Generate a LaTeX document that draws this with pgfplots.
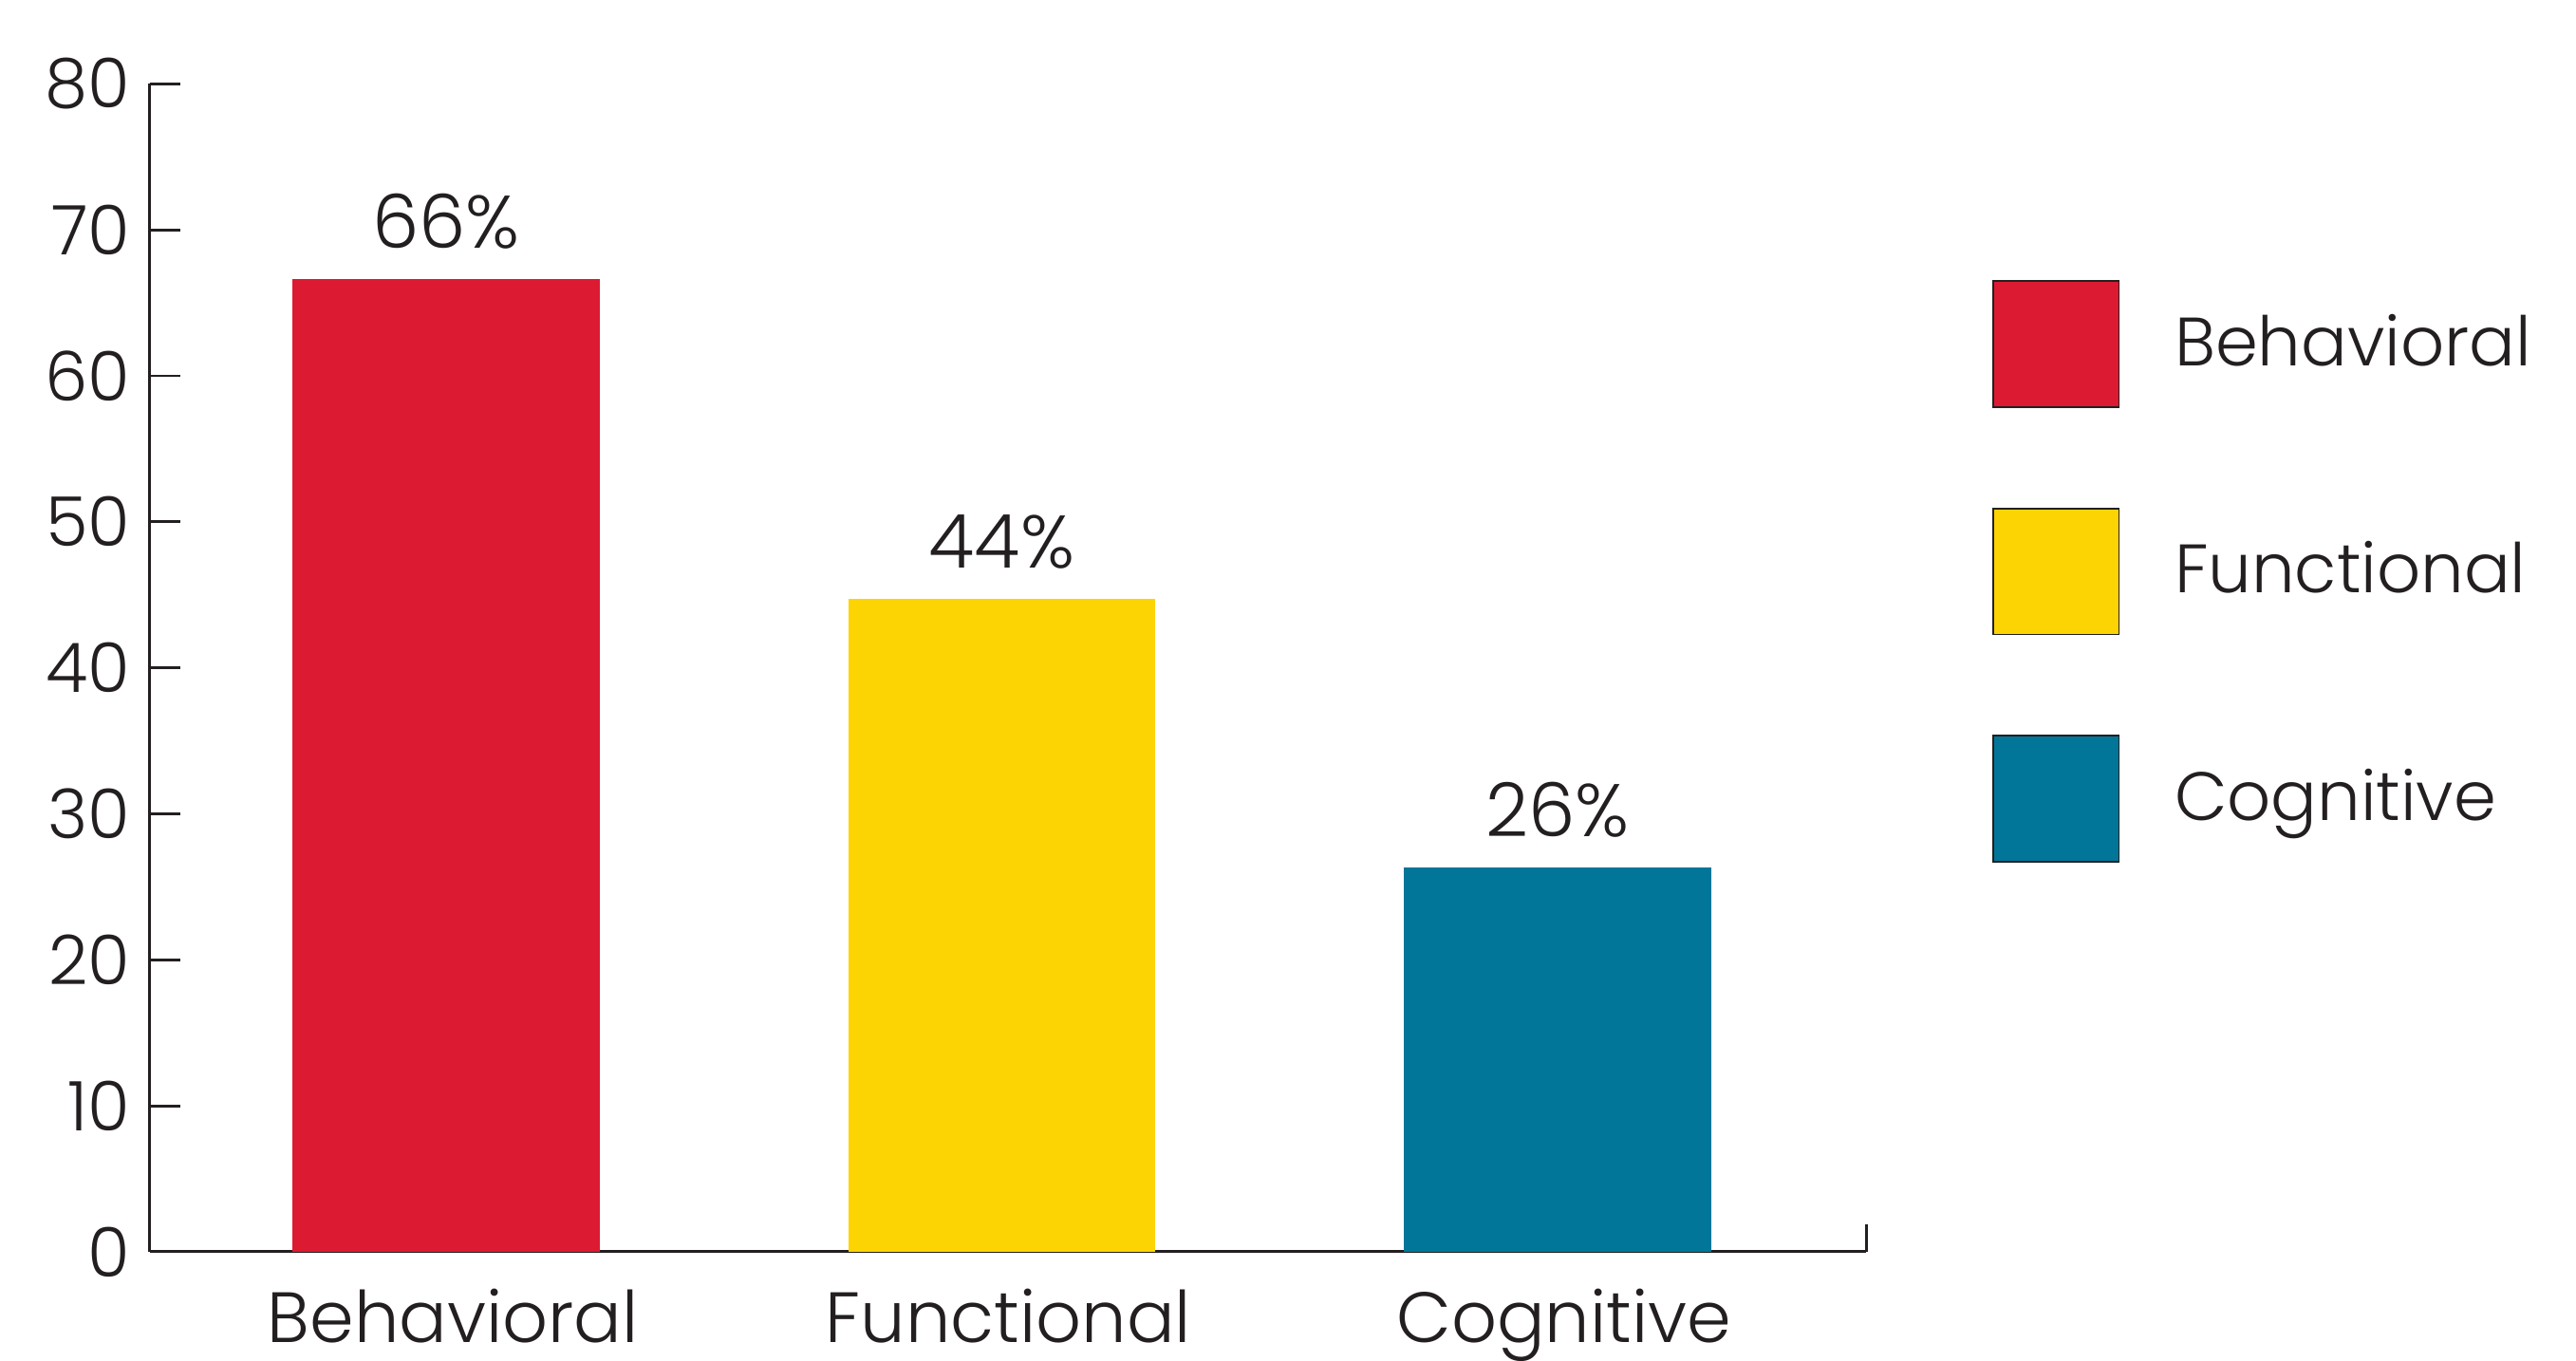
\documentclass[border=0pt]{standalone}
\usepackage{pgfplots}
\pgfplotsset{compat=1.18}
\usepackage{fontspec}
\setmainfont{Poppins}[UprightFont={* Light}]
\definecolor{cred}{HTML}{DC1A32}
\definecolor{cyel}{HTML}{FDD403}
\definecolor{cblu}{HTML}{017699}
\definecolor{ctxt}{HTML}{231F20}
\begin{document}
\begin{tikzpicture}
\path[use as bounding box] (-27.3pt,-19.8pt) rectangle (443.1pt,228.6pt);
\begin{axis}[
  scale only axis,
  width=313.5pt, height=213.3pt,
  xmin=-0.534, xmax=2.556,
  ymin=0, ymax=80,
  ytick={0,10,...,80},
  xtick={0,1,2},
  xticklabels={Behavioral,Functional,Cognitive},
  axis x line=bottom, axis y line=left,
  axis line style={-, line width=0.5pt, draw=ctxt},
  tick align=inside,
  ytick style={line width=0.5pt, draw=ctxt},
  major tick length=5.6pt,
  xtick style={draw=none},
  /pgf/number format/assume math mode=true,
  tick label style={font=\fontsize{12.5}{14}\selectfont, text=ctxt},
  yticklabel style={xshift=0pt},
  xticklabel style={font=\fontsize{13}{15}\selectfont, inner sep=0pt, text depth=0pt, yshift=-1pt, xshift=1.2pt},
  ybar, bar width=0.553,
  every axis plot/.append style={bar shift=0pt, draw=none},
  point meta=explicit symbolic,
  nodes near coords,
  every node near coord/.append style={font=\fontsize{13.6}{15}\selectfont, text=ctxt, anchor=south, yshift=2pt},
  legend style={at={(rel axis cs:1.0727,0.8326)}, anchor=north west, draw=none, fill=none,
    inner xsep=0pt, inner ysep=0pt, row sep=18.2pt, column sep=10pt,
    nodes={inner sep=0pt, anchor=west, font=\fontsize{12.5}{14}\selectfont, text=ctxt}},
  legend image code/.code={\draw[#1, draw=ctxt, line width=0.3pt] (0pt,-11.5pt) rectangle (23pt,11.5pt);},
  clip=false,
]
\addplot[fill=cred] coordinates {(0,66.6) [66\%]};
\addlegendentry{Behavioral}
\addplot[fill=cyel] coordinates {(1,44.7) [44\%]};
\addlegendentry{Functional}
\addplot[fill=cblu] coordinates {(2,26.3) [26\%]};
\addlegendentry{Cognitive}
\draw[line width=0.5pt, draw=ctxt] (rel axis cs:1,0) -- ([yshift=5pt]rel axis cs:1,0);
\end{axis}
\end{tikzpicture}
\end{document}
